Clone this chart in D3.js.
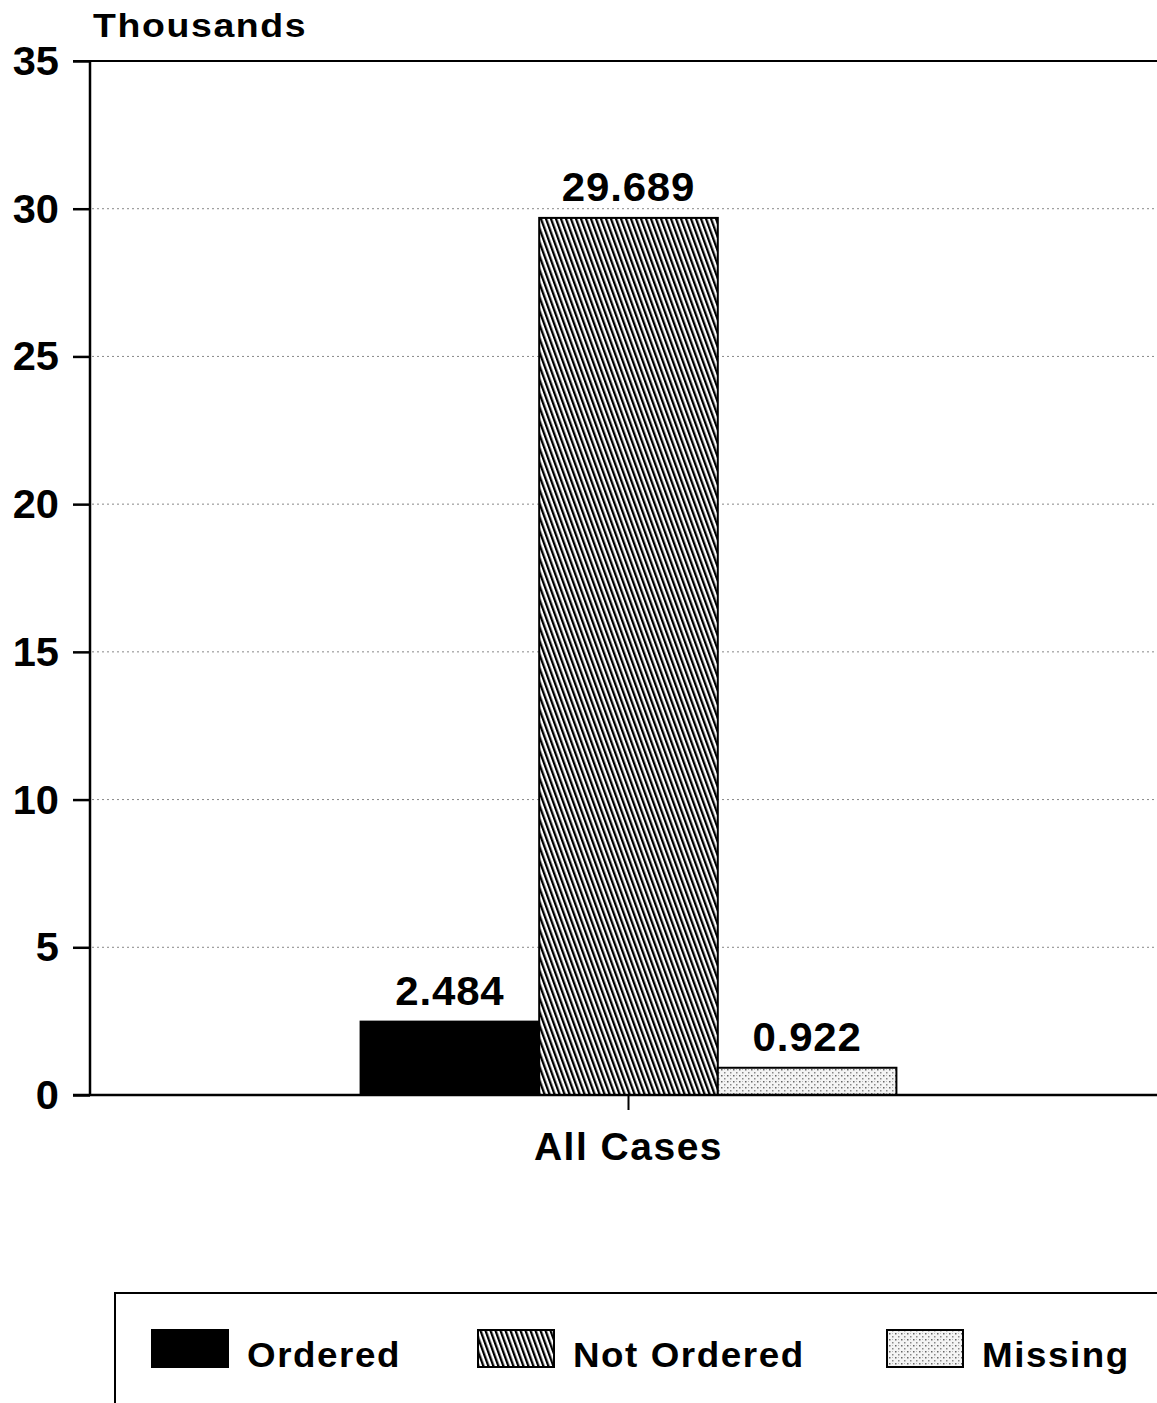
<!DOCTYPE html>
<html><head><meta charset="utf-8">
<script src="https://cdn.jsdelivr.net/npm/d3@7"></script>
<style>
html,body{margin:0;padding:0;background:#fff;}
svg{display:block;}
text{font-family:"Liberation Sans",Arial,Helvetica,sans-serif;font-weight:bold;fill:#000;}
</style></head>
<body>
<script>
// ---- data ----
const categories = ["All Cases"];
const seriesNames = ["Ordered", "Not Ordered", "Missing"];
const seriesValues = [2.484, 29.689, 0.922];
const valueLabels = ["2.484", "29.689", "0.922"];
const yTicks = [0, 5, 10, 15, 20, 25, 30, 35];
const yUnitLabel = "Thousands";

const W = 1157, H = 1403;
const svg = d3.select("body").append("svg").attr("width", W).attr("height", H);

const defs = svg.append("defs");
// hatch pattern
const hatch = defs.append("pattern").attr("id", "hatch")
  .attr("patternUnits", "userSpaceOnUse").attr("width", 4.7).attr("height", 10)
  .attr("patternTransform", "rotate(-20)");
hatch.append("rect").attr("width", 4.7).attr("height", 10).attr("fill", "#fff");
hatch.append("rect").attr("width", 2.3).attr("height", 10).attr("fill", "#000");
// stipple pattern
const dots = defs.append("pattern").attr("id", "dots")
  .attr("patternUnits", "userSpaceOnUse").attr("width", 6).attr("height", 6);
dots.append("rect").attr("width", 6).attr("height", 6).attr("fill", "#f4f4f4");
dots.append("rect").attr("x", 1).attr("y", 1).attr("width", 1.5).attr("height", 1.5).attr("fill", "#666");
dots.append("rect").attr("x", 4).attr("y", 4).attr("width", 1.5).attr("height", 1.5).attr("fill", "#888");
dots.append("rect").attr("x", 4).attr("y", 1).attr("width", 1).attr("height", 1).attr("fill", "#bbb");
const fills = ["#000", "url(#hatch)", "url(#dots)"];

const x0 = 90, x1 = 1167, yBottom = 1095, yTop = 61;
const y = d3.scaleLinear().domain([0, 35]).range([yBottom, yTop]);
const xBand = d3.scaleBand().domain(categories).range([x0, x1]).paddingInner(0).paddingOuter(0.505);
const xSeries = d3.scaleBand().domain(seriesNames).range([0, xBand.bandwidth()]).padding(0);

function stext(g, str, x, yy, opts) {
  return g.append("text")
    .attr("transform", `translate(${x},${yy}) scale(${opts.sx || 1},1)`)
    .attr("text-anchor", opts.anchor || "start")
    .style("font-size", opts.size + "px")
    .style("letter-spacing", (opts.ls || 0) + "px")
    .text(str);
}

// gridlines
svg.append("g").selectAll("line").data(yTicks.filter(d => d > 0 && d < 35)).join("line")
  .attr("x1", x0 + 2).attr("x2", W).attr("y1", d => y(d)).attr("y2", d => y(d))
  .attr("stroke", "#888").attr("stroke-width", 1).attr("stroke-dasharray", "2,3");

// top frame line
svg.append("line").attr("x1", 73).attr("x2", W).attr("y1", y(35)).attr("y2", y(35))
  .attr("stroke", "#000").attr("stroke-width", 2);

// y axis
const yAxis = d3.axisLeft(y).tickValues(yTicks).tickSize(17).tickFormat("");
const ga = svg.append("g").attr("transform", `translate(${x0},0)`).call(yAxis);
ga.select(".domain").attr("stroke", "#000").attr("stroke-width", 2.5).attr("d", `M0,${yTop}V${yBottom}`);
ga.selectAll(".tick line").attr("stroke", "#000").attr("stroke-width", 2.5);
yTicks.forEach(v => stext(svg, String(v), 59, y(v) + 14, {size: 40, sx: 1.04, anchor: "end"}));

stext(svg, yUnitLabel, 93, 37, {size: 34, sx: 1.1, ls: 1.5});

// bars
const gBars = svg.append("g");
categories.forEach(cat => {
  seriesNames.forEach((s, i) => {
    const bx = xBand(cat) + xSeries(s);
    gBars.append("rect")
      .attr("x", bx).attr("y", y(seriesValues[i]))
      .attr("width", xSeries.bandwidth()).attr("height", yBottom - y(seriesValues[i]))
      .attr("fill", fills[i]).attr("stroke", "#000").attr("stroke-width", 2);
    stext(gBars, valueLabels[i], bx + xSeries.bandwidth() / 2, y(seriesValues[i]) - 17,
      {size: 40, sx: 1.05, ls: 0.8, anchor: "middle"});
  });
});

// x axis
svg.append("line").attr("x1", 73).attr("x2", W).attr("y1", yBottom).attr("y2", yBottom)
  .attr("stroke", "#000").attr("stroke-width", 2.5);
const xAxis = d3.axisBottom(xBand).tickSize(15).tickFormat("");
const gx = svg.append("g").attr("transform", `translate(0,${yBottom})`).call(xAxis);
gx.select(".domain").remove();
gx.selectAll(".tick line").attr("stroke", "#000").attr("stroke-width", 2);
categories.forEach(cat => stext(svg, cat, xBand(cat) + xBand.bandwidth() / 2, 1160,
  {size: 39, ls: 1.5, anchor: "middle"}));

// legend
svg.append("path").attr("d", `M115,${H + 5}V1293H${W + 5}`)
  .attr("fill", "none").attr("stroke", "#000").attr("stroke-width", 2);
const legendSwatchX = [152, 478, 887];
const lg = svg.append("g");
seriesNames.forEach((s, i) => {
  lg.append("rect").attr("x", legendSwatchX[i]).attr("y", 1330).attr("width", 76).attr("height", 37)
    .attr("fill", fills[i]).attr("stroke", "#000").attr("stroke-width", 2);
  stext(lg, s, legendSwatchX[i] + 95, 1367, {size: 35, sx: 1.05, ls: 1.5});
});
</script>
</body></html>
